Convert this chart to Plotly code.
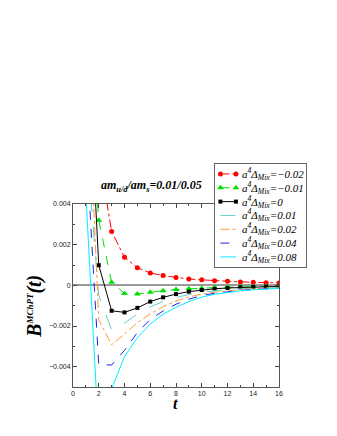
import plotly.graph_objects as go

# Data
t = list(range(1, 17))
labels = ["-0.02", "-0.01", "0", "0.01", "0.02", "0.04", "0.08"]

b_m002 = [0.020, 0.0065, 0.00265, 0.00138, 0.00087, 0.00061, 0.00048, 0.00039,
          0.00031, 0.00027, 0.00023, 0.00020, 0.00017, 0.00015, 0.00013, 0.00012]
b_m001 = [0.012, 0.0032, 0.00015, -0.00040, -0.00043, -0.00034, -0.00026, -0.00021,
          -0.00017, -0.00014, -0.00011, -0.00009, -0.00007, -0.00006, -0.00005, -0.00004]
b_0 = [0.0135, 0.00099, -0.00125, -0.00133, -0.00111, -0.00080, -0.00059, -0.00043,
       -0.00031, -0.00023, -0.00017, -0.00013, -0.00010, -0.00008, -0.00007, -0.00006]
b_001 = [0.0073, -0.0005, -0.00220, -0.00186, -0.00141, -0.00106, -0.00080, -0.00060,
         -0.00045, -0.00034, -0.00027, -0.00021, -0.00017, -0.00014, -0.00012, -0.00010]
b_002 = [0.0126, -0.0017, -0.00292, -0.00240, -0.00183, -0.00141, -0.00105, -0.00077,
         -0.00057, -0.00043, -0.00034, -0.00027, -0.00021, -0.00017, -0.00014, -0.00012]
b_004 = [0.0072, -0.0039, -0.00392, -0.00320, -0.00232, -0.00168, -0.00126, -0.00093,
         -0.00068, -0.00050, -0.00039, -0.00031, -0.00025, -0.00020, -0.00017, -0.00014]
b_008 = [0.0045, -0.0075, -0.00510, -0.00350, -0.00257, -0.00190, -0.00142, -0.00108,
         -0.00080, -0.00058, -0.00044, -0.00034, -0.00027, -0.00022, -0.00018, -0.00015]

series = [b_m002, b_m001, b_0, b_001, b_002, b_004, b_008]
colors = ["#ff0000", "#00e000", "#000000", "#66cccc", "#ff9933", "#2222ee", "#00eeff"]
dashes = ["dashdot", "dash", "solid", "longdash", "dashdot", "dash", "solid"]
symbols = ["circle", "triangle-up", "square", None, None, None, None]
msizes = [5, 6, 4, 0, 0, 0, 0]

fig = go.Figure()

for vals, col, dsh, sym, ms in zip(series, colors, dashes, symbols, msizes):
    fig.add_trace(go.Scatter(
        x=t, y=vals,
        mode="lines+markers" if sym else "lines",
        line=dict(color=col, width=1, dash=dsh),
        marker=dict(symbol=sym or "circle", size=ms, color=col),
        showlegend=False))

# hand made legend in its own little subplot
for i, (col, dsh, sym, ms) in enumerate(zip(colors, dashes, symbols, msizes)):
    fig.add_trace(go.Scatter(
        x=[0.06, 0.23], y=[i + 1, i + 1],
        mode="lines+markers" if sym else "lines",
        line=dict(color=col, width=1, dash=dsh),
        marker=dict(symbol=sym or "circle", size=ms, color=col),
        xaxis="x2", yaxis="y2", showlegend=False, hoverinfo="skip"))

serif = "Liberation Serif"
annotations = []
for i, lab in enumerate(labels):
    lab = lab.replace("-", "\u2212")
    annotations.append(dict(
        text="<i>a<sup>4</sup>\u0394<sub>Mix</sub>=" + lab + "</i>",
        x=0.28, y=i + 1, xref="x2", yref="y2", xanchor="left", yanchor="middle",
        showarrow=False, font=dict(family=serif, size=11, color="#000")))

annotations += [
    dict(text="<b><i>am<sub>u/d</sub>/am<sub>s</sub>=0.01/0.05</i></b>",
         x=0.337, y=0.9, xref="paper", yref="paper", xanchor="center", yanchor="middle",
         showarrow=False, font=dict(family=serif, size=12, color="#000")),
    dict(text="<b><i>B<sup><span style='font-size:9px'>MChPT</span></sup>(t)</i></b>",
         x=-0.163, y=0.359, xref="paper", yref="paper", xanchor="center", yanchor="middle",
         showarrow=False, textangle=-90,
         font=dict(family=serif, size=20, color="#000")),
    dict(text="<b><i>t</i></b>",
         x=0.442, y=-0.075, xref="paper", yref="paper", xanchor="center", yanchor="middle",
         showarrow=False, font=dict(family=serif, size=16, color="#000")),
]

tickfont = dict(family="Liberation Sans", size=7, color="#222")
fig.update_layout(
    width=337, height=436,
    margin=dict(l=65, r=39, t=156, b=57),
    paper_bgcolor="white", plot_bgcolor="white",
    xaxis=dict(domain=[0, 0.8841], range=[0, 16], dtick=2, tick0=0,
               ticks="inside", ticklen=4, tickcolor="#444",
               minor=dict(dtick=1, ticks="inside", ticklen=2, tickcolor="#444"),
               showline=True, linecolor="#555", linewidth=1, mirror="ticks",
               showgrid=False, zeroline=False, tickfont=tickfont),
    yaxis=dict(domain=[0, 0.8206], range=[-0.005, 0.004], dtick=0.002, tick0=0,
               ticks="inside", ticklen=4, tickcolor="#444",
               minor=dict(dtick=0.001, ticks="inside", ticklen=2, tickcolor="#444"),
               showline=True, linecolor="#555", linewidth=1, mirror="ticks",
               showgrid=False, zeroline=True, zerolinecolor="#999", zerolinewidth=1.5,
               tickfont=tickfont),
    xaxis2=dict(domain=[0.6094, 1], range=[0, 1], anchor="y2",
                showline=True, mirror=True, linecolor="#666", linewidth=1,
                showticklabels=False, ticks="", showgrid=False, zeroline=False),
    yaxis2=dict(domain=[0.5381, 1], range=[7.73, 0.28], anchor="x2",
                showline=True, mirror=True, linecolor="#666", linewidth=1,
                showticklabels=False, ticks="", showgrid=False, zeroline=False),
    annotations=annotations,
)

fig.write_html("out.html")
